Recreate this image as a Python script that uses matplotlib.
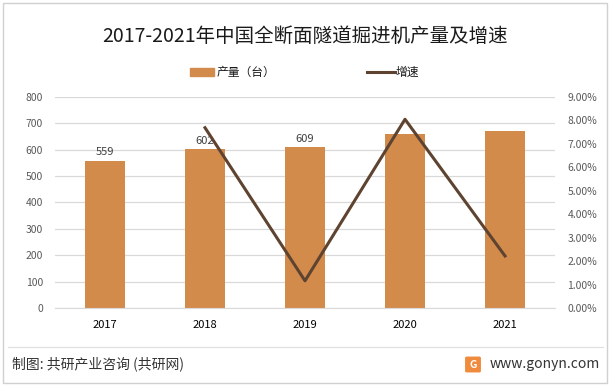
import matplotlib
matplotlib.use('Agg')
import matplotlib.pyplot as plt
from matplotlib.patches import Rectangle, FancyBboxPatch
from matplotlib.lines import Line2D

plt.rcParams['font.family'] = ['Noto Sans CJK SC', 'DejaVu Sans']

years = ['2017', '2018', '2019', '2020', '2021']
output = [559, 602, 609, 658, 672]
growth = [None, 7.69, 1.16, 8.05, 2.22]   # %
shown_labels = [559, 602, 609]             # only first three are labelled in the source

bar_color = '#D38B4C'
line_color = '#5E4430'
txt = '#404040'

fig = plt.figure(figsize=(6.11, 3.86), dpi=100)
ax = fig.add_axes([55/611, 1-308/386, 500/611, 211/386])
ax2 = ax.twinx()

x = list(range(len(years)))
ax.bar(x, output, width=0.4, color=bar_color, zorder=2)
for i, v in enumerate(shown_labels):
    ax.text(i, v + 14, str(v), ha='center', va='bottom', fontsize=8, color=txt)

gx = [i for i, g in enumerate(growth) if g is not None]
gy = [g for g in growth if g is not None]
ax2.plot(gx, gy, color=line_color, lw=2.2, zorder=3)

ax.set_xlim(-0.5, 4.5)
ax.set_ylim(0, 800)
ax.set_yticks(range(0, 801, 100))
ax2.set_ylim(0, 9)
ax2.set_yticks(range(0, 10))
ax2.set_yticklabels(['%.2f%%' % v for v in range(0, 10)])
ax.set_xticks(x)
ax.set_xticklabels(years)

ax.grid(axis='y', color='#D9D9D9', lw=0.9, zorder=0)
ax.set_axisbelow(True)
for a in (ax, ax2):
    for s in a.spines.values():
        s.set_visible(False)
    a.tick_params(length=0, labelsize=7.5, colors='#595959')
ax.spines['bottom'].set_visible(True)
ax.spines['bottom'].set_color('#D9D9D9')
ax.tick_params(axis='x', labelsize=8, colors='#000000', pad=9)
ax.tick_params(axis='y', pad=8.5)
ax2.tick_params(axis='y', pad=9)

# title
fig.text(0.5, 1-36/386, '2017-2021年中国全断面隧道掘进机产量及增速', ha='center', va='center',
         fontsize=14, color='#1a1a1a')

# legend
fig.patches.append(Rectangle((190/611, 1-76/386), 24/611, 8/386, transform=fig.transFigure,
                             color=bar_color))
fig.text(217/611, 1-72/386, '产量（台）', va='center', fontsize=8.5, color='#1a1a1a')
fig.lines.append(Line2D([367/611, 395/611], [1-72/386, 1-72/386], transform=fig.transFigure,
                        color=line_color, lw=2.2))
fig.text(396/611, 1-72/386, '增速', va='center', fontsize=8.5, color='#1a1a1a')

# frame and footer
fig.patches.append(Rectangle((3/611, 3/386), 604/611, 380/386, transform=fig.transFigure,
                             fill=False, ec='#D0D0D0', lw=1))
fig.lines.append(Line2D([8/611, 603/611], [1-347/386, 1-347/386], transform=fig.transFigure,
                        color='#E0E0E0', lw=0.9))
fig.text(12/611, 1-364/386, '制图: 共研产业咨询 (共研网)', va='center', fontsize=10,
         color='#333333')
fig.patches.append(FancyBboxPatch((467/611, 1-371/386), 12/611, 13/386, transform=fig.transFigure,
                                  boxstyle='round,pad=0.002', color='#F08A3C'))
fig.text(473/611, 1-364.5/386, 'G', ha='center', va='center', fontsize=7.5, color='white',
         fontweight='bold')
fig.text(600/611, 1-364/386, 'www.gonyn.com', ha='right', va='center', fontsize=10,
         color='#333333')

fig.savefig('out.png', dpi=100)
